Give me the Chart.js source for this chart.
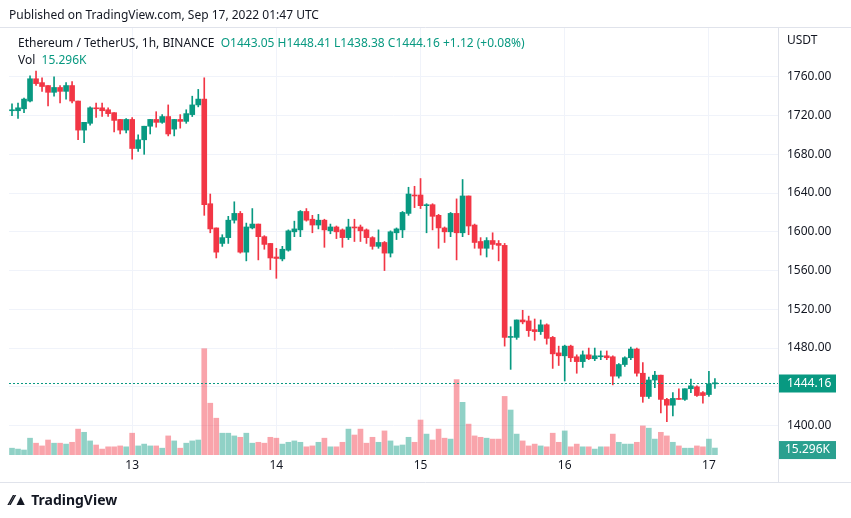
<!DOCTYPE html>
<html>
<head>
<meta charset="utf-8">
<script src="https://cdn.jsdelivr.net/npm/chart.js@4/dist/chart.umd.min.js"></script>
<style>
  body { margin: 0; background: #fff; font-family: "Noto Sans", sans-serif; color: #131722; }
  #wrap { position: relative; width: 851px; height: 518px; overflow: hidden; }
  #top { position: absolute; left: 9px; top: 6px; font-size: 12px; }
  #legend { position: absolute; left: 18px; top: 34px; font-size: 12px; line-height: 17px; }
  .g { color: #089981; }
  #foot { position: absolute; left: 10px; top: 490px; font-size: 14px; font-weight: bold; }
  canvas { position: absolute; left: 0; top: 0; }
</style>
</head>
<body>
<div id="wrap">
  <canvas id="c" width="851" height="518"></canvas>
  <div id="top">Published on TradingView.com, Sep 17, 2022 01:47 UTC</div>
  <div id="legend">
    <div>Ethereum / TetherUS, 1h, BINANCE &nbsp;<span class="g">O</span><span class="g">1443.05</span> <span class="g">H1448.41</span> <span class="g">L1438.38</span> <span class="g">C1444.16</span> <span class="g">+1.12 (+0.08%)</span></div>
    <div>Vol &nbsp;<span class="g">15.296K</span></div>
  </div>
  <div id="foot">⁄⁄▲ TradingView</div>
</div>
<script>
const openP = [1725,1725,1727,1735,1758,1754,1751,1744,1749,1745,1751,1735,1705,1712,1728,1728,1726,1723,1716,1705,
  1716,1686,1695,1709,1716,1713,1719,1706,1716,1714,1721,1731,1737,1629,1604,1588,1594,1612,1619,1579,
  1604,1608,1595,1588,1574,1572,1581,1600,1602,1621,1613,1607,1612,1601,1605,1602,1594,1605,1605,1602,
  1594,1585,1589,1578,1599,1602,1619,1638,1638,1627,1628,1617,1604,1600,1619,1599,1637,1607,1590,1583,
  1591,1588,1586,1491,1491,1509,1508,1499,1497,1504,1491,1475,1472,1482,1471,1466,1473,1469,1471,1472,
  1471,1451,1463,1470,1479,1454,1430,1447,1452,1427,1421,1428,1427,1438,1440,1434,1432,1443.05];
const highP = [1732,1733,1738,1761,1766,1759,1751,1760,1751,1754,1755,1735,1713,1729,1733,1733,1728,1723,1716,1717,
  1718,1700,1709,1716,1724,1721,1731,1716,1721,1726,1740,1747,1759,1639,1604,1597,1616,1631,1621,1609,
  1624,1608,1596,1588,1583,1585,1602,1611,1622,1624,1617,1618,1613,1608,1606,1603,1613,1613,1607,1603,
  1595,1602,1590,1601,1604,1621,1646,1647,1655,1629,1629,1618,1605,1620,1634,1654,1637,1608,1594,1594,
  1599,1591,1588,1502,1509,1519,1513,1510,1509,1505,1492,1482,1483,1483,1473,1477,1480,1480,1477,1477,
  1472,1464,1471,1481,1480,1465,1450,1456,1452,1428,1434,1438,1438,1448,1441,1435,1456,1448.41];
const lowP = [1720,1717,1723,1734,1751,1745,1730,1740,1733,1737,1733,1695,1692,1710,1718,1719,1719,1703,1701,1702,
  1675,1683,1680,1701,1708,1712,1699,1699,1707,1712,1719,1729,1617,1599,1573,1585,1588,1609,1578,1570,
  1603,1571,1582,1561,1552,1570,1580,1595,1595,1611,1599,1603,1584,1598,1593,1584,1592,1590,1590,1588,
  1582,1583,1560,1574,1592,1594,1617,1625,1624,1599,1602,1583,1589,1595,1571,1595,1597,1583,1576,1574,
  1582,1570,1482,1458,1489,1505,1492,1488,1494,1484,1459,1462,1446,1466,1454,1460,1468,1467,1468,1468,
  1442,1449,1461,1468,1451,1424,1428,1439,1413,1404,1410,1427,1426,1434,1430,1423,1430,1438.38];
const closeP = [1726,1728,1737,1758,1753,1750,1744,1749,1745,1751,1735,1705,1713,1728,1727.5,1725,1722,1715,1705,1716,
  1686,1695,1709,1716,1713,1719,1701,1716,1714,1722,1731,1737,1628,1603,1579,1594,1612,1619,1579,1605,
  1608,1595,1587,1573,1572.5,1582,1601,1603,1621,1612,1607,1612,1602,1605,1600,1594,1605,1604,1601,1594,
  1585,1589,1578,1600,1603,1620,1639,1637,1627,1628,1616,1604,1600,1619,1599,1637,1606,1589,1583,1591,
  1587,1586,1491,1492,1509,1507,1498,1497,1504,1490,1474,1472,1482,1470,1466,1473,1469,1472,1472,1470,
  1451,1463,1470,1479,1454,1430,1447,1452,1427,1421,1428,1427,1438,1441,1431,1431,1443,1444.16];
// volume in K
const volume = [15,13,11,37,26,20,33,26,26,24,28,57,50,31,22,13,18,18,20,18,
  48,20,24,20,20,15,42,31,15,26,31,33,234,114,81,48,48,42,39,48,
  26,28,26,39,37,24,28,31,28,18,20,28,37,18,18,28,57,44,57,
  26,39,28,53,31,20,22,39,28,77,46,33,57,37,35,166,116,68,42,39,
  37,35,35,129,99,46,31,20,24,20,18,48,28,53,18,24,18,18,13,18,
  18,46,28,24,24,28,64,59,35,50,42,28,20,15,15,20,18,35,15.296];
const dayLabels = { 20: '13', 44: '14', 68: '15', 92: '16', 116: '17' };
const priceTicks = [1400,1440,1480,1520,1560,1600,1640,1680,1720,1760];
const lastPrice = 1444.16;

const N = 128; // extra empty slots on the right
const labels = [];
for (let i = 0; i < N; i++) labels.push(dayLabels[i] || '');

const GREEN = '#089981', RED = '#f23645';
const up = openP.map((o, i) => closeP[i] >= o);
const col = up.map(u => u ? GREEN : RED);
const volCol = up.map(u => u ? 'rgba(8,153,129,0.45)' : 'rgba(242,54,69,0.45)');

const wicks = lowP.map((l, i) => [l, highP[i]]);
const bodies = openP.map((o, i) => {
  let c = closeP[i];
  if (Math.abs(c - o) < 1) c = o + (up[i] ? 1 : -1);
  return [o, c];
});

const overlay = {
  id: 'overlay',
  afterDraw(chart) {
    const ctx = chart.ctx, a = chart.chartArea, y = chart.scales.y, y2 = chart.scales.y2;
    ctx.save();
    ctx.strokeStyle = '#e0e3eb';
    ctx.lineWidth = 1;
    ctx.beginPath();
    ctx.moveTo(a.right + 0.5, 27); ctx.lineTo(a.right + 0.5, 482);
    ctx.moveTo(0, 27.5); ctx.lineTo(851, 27.5);
    ctx.moveTo(0, 482.5); ctx.lineTo(851, 482.5);
    ctx.stroke();
    // last price line
    const py = Math.round(y.getPixelForValue(lastPrice)) + 0.5;
    ctx.strokeStyle = GREEN;
    ctx.setLineDash([2, 2]);
    ctx.beginPath(); ctx.moveTo(a.left, py); ctx.lineTo(a.right, py); ctx.stroke();
    ctx.setLineDash([]);
    ctx.font = '12px "Noto Sans"';
    ctx.textBaseline = 'middle';
    ctx.fillStyle = GREEN;
    ctx.fillRect(a.right + 1, py - 9, 57, 18);
    ctx.fillStyle = '#fff';
    ctx.fillText('1444.16', a.right + 9, py);
    const vy = y2.getPixelForValue(volume[volume.length - 1]);
    ctx.fillStyle = '#2aa08f';
    ctx.fillRect(a.right + 1, vy - 7, 57, 18);
    ctx.fillStyle = '#fff';
    ctx.fillText('15.296K', a.right + 7, vy + 2);
    ctx.fillStyle = '#131722';
    ctx.fillText('USDT', a.right + 9, 41);
    ctx.restore();
  }
};

new Chart(document.getElementById('c'), {
  type: 'bar',
  data: {
    labels: labels,
    datasets: [
      { data: bodies, backgroundColor: col, barThickness: 5, grouped: false, order: 1, yAxisID: 'y' },
      { data: wicks, backgroundColor: col, barThickness: 1, grouped: false, order: 2, yAxisID: 'y' },
      { data: volume, backgroundColor: volCol, barThickness: 5, grouped: false, order: 3, yAxisID: 'y2' }
    ]
  },
  options: {
    responsive: false,
    animation: false,
    layout: { padding: { left: 9, top: 28, bottom: 36, right: 0 } },
    plugins: { legend: { display: false }, tooltip: { enabled: false } },
    scales: {
      x: {
        offset: true,
        ticks: { autoSkip: false, maxRotation: 0, color: '#131722', font: { size: 12, family: 'Noto Sans' },
          callback: (v, i) => labels[i] },
        grid: { offset: false, drawTicks: false, color: ctx => labels[ctx.index] ? '#f0f3fa' : 'rgba(0,0,0,0)' },
        border: { display: false },
        afterFit: s => { s.height = 27; }
      },
      y: {
        position: 'right',
        min: 1369.6, max: 1810.4,
        afterBuildTicks: s => { s.ticks = priceTicks.map(v => ({ value: v })); },
        ticks: { color: '#131722', padding: 9, font: { size: 12, family: 'Noto Sans' }, callback: v => v.toFixed(2) },
        grid: { color: '#f0f3fa', drawTicks: false },
        border: { display: false },
        afterFit: s => { s.width = 73; }
      },
      y2: { display: false, min: 0, max: 940 }
    }
  },
  plugins: [overlay]
});
</script>
</body>
</html>
